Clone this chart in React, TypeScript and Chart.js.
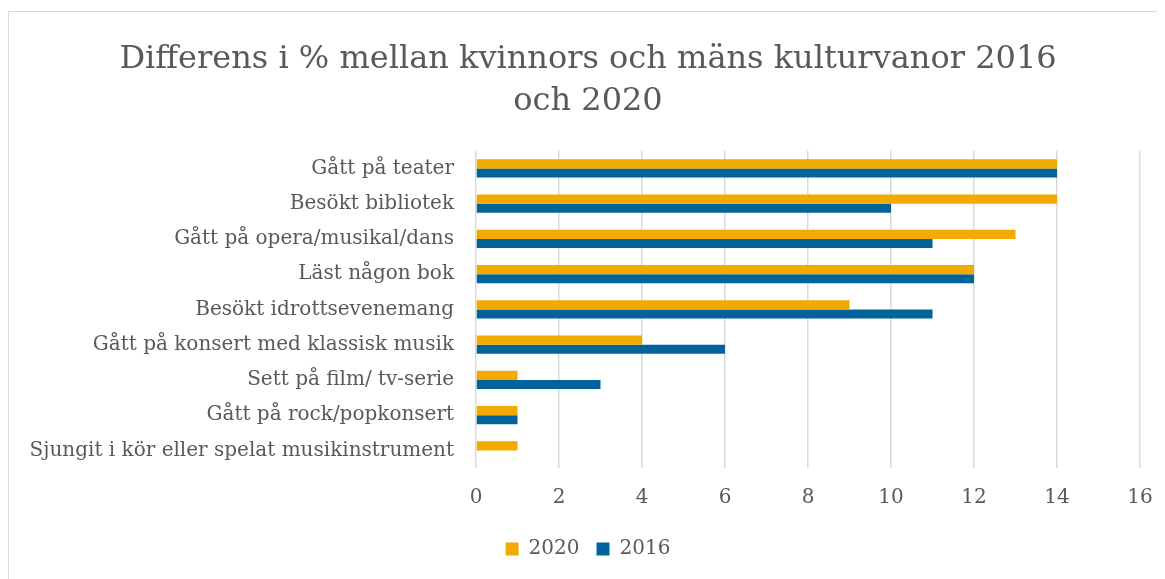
import React, { useEffect, useRef } from "react";
import { Chart, registerables } from "chart.js";

Chart.register(...registerables);

const categories = [
  "Gått på teater",
  "Besökt bibliotek",
  "Gått på opera/musikal/dans",
  "Läst någon bok",
  "Besökt idrottsevenemang",
  "Gått på konsert med klassisk musik",
  "Sett på film/ tv-serie",
  "Gått på rock/popkonsert",
  "Sjungit i kör eller spelat musikinstrument",
];
const values2020 = [14, 14, 13, 12, 9, 4, 1, 1, 1];
const values2016 = [14, 10, 11, 12, 11, 6, 3, 1, 0];
const titleLines = ["Differens i % mellan kvinnors och mäns kulturvanor 2016", "och 2020"];

const FONT = "'DejaVu Serif', serif";
const TEXT = "#595959";

// let the long category labels extend left of the y-axis box without being clipped
const widenYLabelArea = {
  id: "widenYLabelArea",
  afterLayout(chart: any) {
    const y = chart.scales.y;
    if (y) y.left = 0;
  },
};

export default function App() {
  const ref = useRef<HTMLCanvasElement | null>(null);
  useEffect(() => {
    if (!ref.current) return;
    const chart = new Chart(ref.current, {
      type: "bar",
      data: {
        labels: categories,
        datasets: [
          { label: "2020", data: values2020, backgroundColor: "#F2A900", barPercentage: 1, categoryPercentage: 0.52 },
          { label: "2016", data: values2016, backgroundColor: "#00639A", barPercentage: 1, categoryPercentage: 0.52 },
        ],
      },
      options: {
        indexAxis: "y",
        animation: false,
        responsive: true,
        maintainAspectRatio: false,
        layout: { padding: { left: 27, right: 20, top: 0, bottom: 13 } },
        plugins: {
          title: {
            display: true,
            text: titleLines,
            color: TEXT,
            font: { family: FONT, size: 32, weight: "normal", lineHeight: 1.31 },
            padding: { top: 27, bottom: 28 },
          },
          legend: {
            position: "bottom",
            labels: {
              color: TEXT,
              font: { family: FONT, size: 20 },
              boxWidth: 13,
              boxHeight: 13,
              padding: 17,
            },
          },
          tooltip: { enabled: false },
        },
        scales: {
          x: {
            min: 0,
            max: 16,
            ticks: { stepSize: 2, color: TEXT, font: { family: FONT, size: 20 }, padding: 18 },
            grid: { color: "#d9d9d9", lineWidth: 1.5, drawTicks: false },
            border: { display: false },
            afterFit: (s: any) => { s.height = 54; s.paddingRight = 0; s.paddingLeft = 0; },
          },
          y: {
            ticks: { color: TEXT, font: { family: FONT, size: 20 }, padding: 22 },
            grid: { display: false, drawTicks: false },
            border: { display: false },
            afterFit: (s: any) => { s.width = 440; },
          },
        },
      },
      plugins: [widenYLabelArea],
    });
    return () => chart.destroy();
  }, []);
  return (
    <div style={{ width: 1153, height: 572, border: "1px solid #d9d9d9", marginTop: 3, boxSizing: "border-box", background: "#fff" }}>
      <div style={{ position: "relative", width: 1151, height: 570 }}>
        <canvas ref={ref} />
      </div>
    </div>
  );
}
